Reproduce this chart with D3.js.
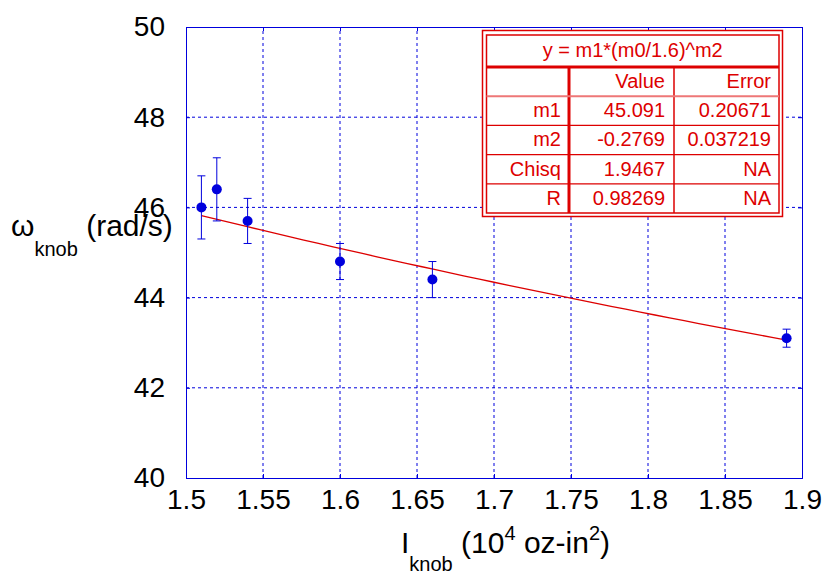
<!DOCTYPE html>
<html>
<head>
<meta charset="utf-8">
<script src="https://cdn.jsdelivr.net/npm/d3@7"></script>
<style>
  body { margin: 0; background: #fff; }
  svg { display: block; font-family: "Liberation Sans", Arial, sans-serif; }
</style>
</head>
<body>
<div id="chart"></div>
<script>
// measured points
const inertia = [1.51, 1.52, 1.54, 1.60, 1.66, 1.89];
const omega = [46.0, 46.4, 45.7, 44.8, 44.4, 43.1];
const omegaErr = [0.7, 0.7, 0.5, 0.4, 0.4, 0.2];

const xTicks = [1.5, 1.55, 1.6, 1.65, 1.7, 1.75, 1.8, 1.85, 1.9];
const yTicks = [40, 42, 44, 46, 48, 50];

// fit results
const fitM1 = 45.091;
const fitM2 = -0.2769;
const fitEquation = "y = m1*(m0/1.6)^m2";
const tableHead = ["", "Value", "Error"];
const tableRows = [
    ["m1", "45.091", "0.20671"],
    ["m2", "-0.2769", "0.037219"],
    ["Chisq", "1.9467", "NA"],
    ["R", "0.98269", "NA"]
];

const width = 827, height = 575;
const margin = {left: 186, right: 25, top: 27, bottom: 97};
const blue = "#0000dd";
const red = "#dd0000";

const svg = d3.select("#chart").append("svg")
    .attr("width", width)
    .attr("height", height);

const x = d3.scaleLinear().domain([1.5, 1.9]).range([margin.left, width - margin.right]);
const y = d3.scaleLinear().domain([40, 50]).range([height - margin.bottom, margin.top]);

// grid
svg.append("g")
    .selectAll("line")
    .data(xTicks.slice(1, -1))
    .join("line")
    .attr("x1", d => x(d)).attr("x2", d => x(d))
    .attr("y1", y(40)).attr("y2", y(50))
    .attr("stroke", blue)
    .attr("stroke-width", 1)
    .attr("stroke-dasharray", "3,3");

svg.append("g")
    .selectAll("line")
    .data(yTicks.slice(1, -1))
    .join("line")
    .attr("x1", x(1.5)).attr("x2", x(1.9))
    .attr("y1", d => y(d)).attr("y2", d => y(d))
    .attr("stroke", blue)
    .attr("stroke-width", 1)
    .attr("stroke-dasharray", "3,3");

// axes (ticks pointing inward)
const axisBottom = svg.append("g")
    .attr("transform", `translate(0,${y(40)})`)
    .call(d3.axisBottom(x).tickValues(xTicks).tickSize(-4).tickPadding(11).tickFormat(d3.format("")));
const axisLeft = svg.append("g")
    .attr("transform", `translate(${x(1.5)},0)`)
    .call(d3.axisLeft(y).tickValues(yTicks).tickSize(-4).tickPadding(21).tickFormat(d3.format("")));
svg.append("g")
    .attr("transform", `translate(0,${y(50)})`)
    .call(d3.axisTop(x).tickValues(xTicks).tickSize(-4).tickFormat(""));
svg.append("g")
    .attr("transform", `translate(${x(1.9)},0)`)
    .call(d3.axisRight(y).tickValues(yTicks).tickSize(-4).tickFormat(""));

svg.selectAll(".domain, .tick line").attr("stroke", blue);
axisBottom.selectAll("text").attr("font-size", 28).attr("fill", "#000")
    .attr("font-family", "Liberation Sans, Arial, sans-serif");
axisLeft.selectAll("text").attr("font-size", 28).attr("fill", "#000")
    .attr("font-family", "Liberation Sans, Arial, sans-serif");

// axis titles
const xTitle = svg.append("text")
    .attr("x", 401).attr("y", 553)
    .attr("font-size", 30);
xTitle.append("tspan").text("I");
xTitle.append("tspan").attr("font-size", 20).attr("dy", 18).text("knob");
xTitle.append("tspan").attr("dy", -18).text(" (10");
xTitle.append("tspan").attr("font-size", 20).attr("dy", -13).text("4");
xTitle.append("tspan").attr("dy", 13).text(" oz-in");
xTitle.append("tspan").attr("font-size", 20).attr("dy", -13).text("2");
xTitle.append("tspan").attr("dy", 13).text(")");

const yTitle = svg.append("text")
    .attr("x", 11).attr("y", 236)
    .attr("font-size", 30);
yTitle.append("tspan").text("\u03c9");
yTitle.append("tspan").attr("font-size", 20).attr("dy", 20).text("knob");
yTitle.append("tspan").attr("dy", -20).text(" (rad/s)");

// fit curve
const fitX = d3.range(0, 41).map(i => inertia[0] + i * (inertia[inertia.length - 1] - inertia[0]) / 40);
svg.append("path")
    .datum(fitX)
    .attr("fill", "none")
    .attr("stroke", red)
    .attr("stroke-width", 1.3)
    .attr("d", d3.line().x(d => x(d)).y(d => y(fitM1 * Math.pow(d / 1.6, fitM2))));

// error bars
const pts = inertia.map((d, i) => ({x: d, y: omega[i], e: omegaErr[i]}));
const bars = svg.append("g").attr("stroke", blue).attr("stroke-width", 1);
bars.selectAll(".v").data(pts).join("line")
    .attr("x1", d => x(d.x)).attr("x2", d => x(d.x))
    .attr("y1", d => y(d.y - d.e)).attr("y2", d => y(d.y + d.e));
bars.selectAll(".t").data(pts).join("line")
    .attr("x1", d => x(d.x) - 4).attr("x2", d => x(d.x) + 4)
    .attr("y1", d => y(d.y + d.e)).attr("y2", d => y(d.y + d.e));
bars.selectAll(".b").data(pts).join("line")
    .attr("x1", d => x(d.x) - 4).attr("x2", d => x(d.x) + 4)
    .attr("y1", d => y(d.y - d.e)).attr("y2", d => y(d.y - d.e));

svg.append("g").selectAll("circle").data(pts).join("circle")
    .attr("cx", d => x(d.x)).attr("cy", d => y(d.y))
    .attr("r", 5)
    .attr("fill", blue);

// fit results table
const tX0 = 486.5, tX1 = 779, tY0 = 35, headH = 32, rowH = 29.2;
const colA = 569, colB = 674;
const tBottom = tY0 + headH + rowH * 5;
svg.append("rect").attr("x", 482.5).attr("y", 30.5).attr("width", 300).attr("height", 186)
    .attr("fill", "#fff").attr("stroke", red).attr("stroke-width", 1.5);
svg.append("rect").attr("x", tX0).attr("y", tY0).attr("width", tX1 - tX0).attr("height", tBottom - tY0)
    .attr("fill", "none").attr("stroke", red).attr("stroke-width", 1.5);
svg.append("line").attr("x1", tX0).attr("x2", tX1).attr("y1", tY0 + headH).attr("y2", tY0 + headH)
    .attr("stroke", red).attr("stroke-width", 3);
svg.append("line").attr("x1", colA).attr("x2", colA).attr("y1", tY0 + headH).attr("y2", tBottom)
    .attr("stroke", red).attr("stroke-width", 3);
svg.append("line").attr("x1", colB).attr("x2", colB).attr("y1", tY0 + headH).attr("y2", tBottom)
    .attr("stroke", red).attr("stroke-width", 1.5);
svg.append("g").selectAll("line").data(d3.range(1, 5)).join("line")
    .attr("x1", tX0).attr("x2", tX1)
    .attr("y1", d => tY0 + headH + rowH * d).attr("y2", d => tY0 + headH + rowH * d)
    .attr("stroke", d => d === 1 ? "#ee7777" : red)
    .attr("stroke-width", d => d === 1 ? 2 : 1.2);

const tbl = svg.append("g").attr("fill", red).attr("font-size", 20);
tbl.append("text").attr("x", (tX0 + tX1) / 2).attr("y", tY0 + 22)
    .attr("text-anchor", "middle").text(fitEquation);
const allRows = [tableHead].concat(tableRows);
const colRight = [561, 665, 771];
allRows.forEach((row, i) => {
    row.forEach((cell, j) => {
        tbl.append("text")
            .attr("x", colRight[j])
            .attr("y", tY0 + headH + rowH * i + 21)
            .attr("text-anchor", "end")
            .text(cell);
    });
});
</script>
</body>
</html>
